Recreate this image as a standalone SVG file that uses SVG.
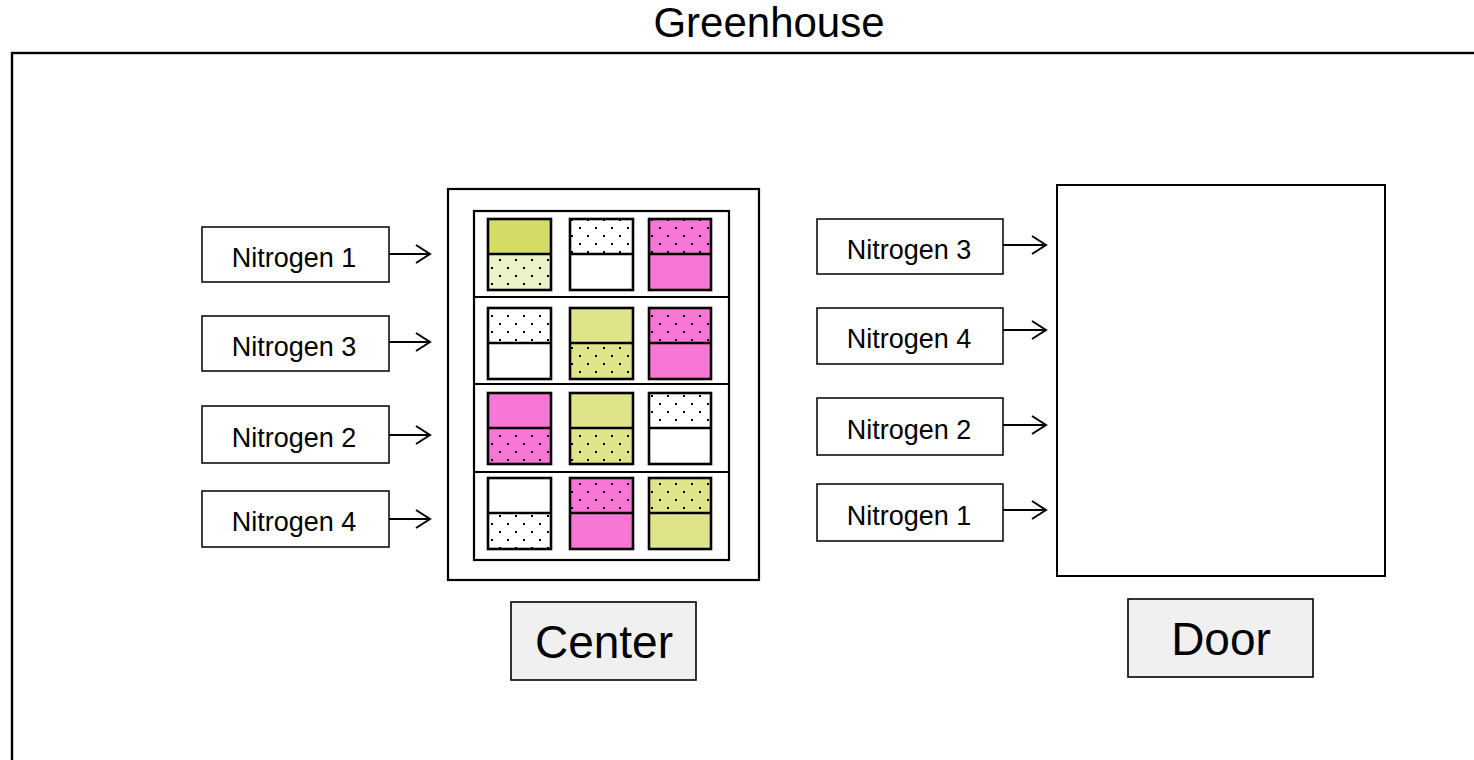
<svg xmlns="http://www.w3.org/2000/svg" width="1474" height="760" viewBox="0 0 1474 760">
<style>
text{font-family:"Liberation Sans",Arial,sans-serif;fill:#000}
.lbl{font-size:27px;text-anchor:middle}
.big{font-size:46px;text-anchor:middle}
.nbox{fill:#fff;stroke:#000;stroke-width:1.5}
.tag{fill:#f0f0f0;stroke:#000;stroke-width:1.6}
.cell{fill:none;stroke:#000;stroke-width:2.6}
.conn{fill:none;stroke:#000;stroke-width:2;marker-end:url(#arr)}
.y1{fill:#d4dc64}.y2{fill:#eef2c8}.y3{fill:#dfe48b}.pk{fill:#f877d5}.wh{fill:#fff}
.dt{fill:url(#dots)}
</style>
<defs>
<pattern id="dots" patternUnits="userSpaceOnUse" width="16" height="16">
<rect x="3" y="3" width="2" height="2" fill="#000"/>
<rect x="11" y="11" width="2" height="2" fill="#000"/>
</pattern>
<marker id="arr" markerUnits="userSpaceOnUse" markerWidth="18" markerHeight="22" refX="15" refY="10" orient="auto">
<path d="M1,1 L15,10 L1,19" fill="none" stroke="#000" stroke-width="2"/>
</marker>
</defs>
<rect width="1474" height="760" fill="#fff"/>
<g id="greenhouse">
<rect x="12" y="53" width="1480" height="760" fill="none" stroke="#000" stroke-width="2.4"/>
<text x="769" y="37" font-size="42" text-anchor="middle">Greenhouse</text>
</g>
<g id="center-bench">
<rect x="448" y="189" width="311" height="391" fill="#fff" stroke="#000" stroke-width="2.2"/>
<rect x="474" y="211" width="255" height="349" fill="#fff" stroke="#000" stroke-width="2.2"/>
<path d="M474,297H729M474,384H729M474,472H729" stroke="#000" stroke-width="2.2"/>
<rect class="y1" x="488" y="219" width="63" height="35"/><rect class="y2" x="488" y="254" width="63" height="36"/><rect class="dt" x="488" y="254" width="63" height="36"/>
<rect class="wh" x="570" y="219" width="63" height="35"/><rect class="dt" x="570" y="219" width="63" height="35"/><rect class="wh" x="570" y="254" width="63" height="36"/>
<rect class="pk" x="649" y="219" width="62" height="35"/><rect class="dt" x="649" y="219" width="62" height="35"/><rect class="pk" x="649" y="254" width="62" height="36"/>
<rect class="wh" x="488" y="308" width="63" height="35"/><rect class="dt" x="488" y="308" width="63" height="35"/><rect class="wh" x="488" y="343" width="63" height="36"/>
<rect class="y3" x="570" y="308" width="63" height="35"/><rect class="y3" x="570" y="343" width="63" height="36"/><rect class="dt" x="570" y="343" width="63" height="36"/>
<rect class="pk" x="649" y="308" width="62" height="35"/><rect class="dt" x="649" y="308" width="62" height="35"/><rect class="pk" x="649" y="343" width="62" height="36"/>
<rect class="pk" x="488" y="393" width="63" height="35"/><rect class="pk" x="488" y="428" width="63" height="36"/><rect class="dt" x="488" y="428" width="63" height="36"/>
<rect class="y3" x="570" y="393" width="63" height="35"/><rect class="y3" x="570" y="428" width="63" height="36"/><rect class="dt" x="570" y="428" width="63" height="36"/>
<rect class="wh" x="649" y="393" width="62" height="35"/><rect class="dt" x="649" y="393" width="62" height="35"/><rect class="wh" x="649" y="428" width="62" height="36"/>
<rect class="wh" x="488" y="478" width="63" height="35"/><rect class="wh" x="488" y="513" width="63" height="36"/><rect class="dt" x="488" y="513" width="63" height="36"/>
<rect class="pk" x="570" y="478" width="63" height="35"/><rect class="dt" x="570" y="478" width="63" height="35"/><rect class="pk" x="570" y="513" width="63" height="36"/>
<rect class="y3" x="649" y="478" width="62" height="35"/><rect class="dt" x="649" y="478" width="62" height="35"/><rect class="y3" x="649" y="513" width="62" height="36"/>
<g class="cell">
<rect x="488" y="219" width="63" height="71"/><path d="M488,254H551"/>
<rect x="570" y="219" width="63" height="71"/><path d="M570,254H633"/>
<rect x="649" y="219" width="62" height="71"/><path d="M649,254H711"/>
<rect x="488" y="308" width="63" height="71"/><path d="M488,343H551"/>
<rect x="570" y="308" width="63" height="71"/><path d="M570,343H633"/>
<rect x="649" y="308" width="62" height="71"/><path d="M649,343H711"/>
<rect x="488" y="393" width="63" height="71"/><path d="M488,428H551"/>
<rect x="570" y="393" width="63" height="71"/><path d="M570,428H633"/>
<rect x="649" y="393" width="62" height="71"/><path d="M649,428H711"/>
<rect x="488" y="478" width="63" height="71"/><path d="M488,513H551"/>
<rect x="570" y="478" width="63" height="71"/><path d="M570,513H633"/>
<rect x="649" y="478" width="62" height="71"/><path d="M649,513H711"/>
</g>
</g>
<g id="door-bench">
<rect x="1057" y="185" width="328" height="391" fill="#fff" stroke="#000" stroke-width="2"/>
</g>
<g id="center-label"><rect class="tag" x="511" y="602" width="185" height="78"/><text class="big" x="604" y="658">Center</text></g>
<g id="door-label"><rect class="tag" x="1128" y="599" width="185" height="78"/><text class="big" x="1221" y="655">Door</text></g>
<g id="left-n1"><rect class="nbox" x="202" y="227" width="187" height="55"/><text class="lbl" x="294" y="267">Nitrogen 1</text></g>
<g id="left-n3"><rect class="nbox" x="202" y="316" width="187" height="55"/><text class="lbl" x="294" y="356">Nitrogen 3</text></g>
<g id="left-n2"><rect class="nbox" x="202" y="406" width="187" height="57"/><text class="lbl" x="294" y="447">Nitrogen 2</text></g>
<g id="left-n4"><rect class="nbox" x="202" y="491" width="187" height="56"/><text class="lbl" x="294" y="531">Nitrogen 4</text></g>
<g id="right-n3"><rect class="nbox" x="817" y="219" width="186" height="55"/><text class="lbl" x="909" y="259">Nitrogen 3</text></g>
<g id="right-n4"><rect class="nbox" x="817" y="308" width="186" height="56"/><text class="lbl" x="909" y="348">Nitrogen 4</text></g>
<g id="right-n2"><rect class="nbox" x="817" y="398" width="186" height="57"/><text class="lbl" x="909" y="439">Nitrogen 2</text></g>
<g id="right-n1"><rect class="nbox" x="817" y="484" width="186" height="57"/><text class="lbl" x="909" y="525">Nitrogen 1</text></g>
<g id="connectors">
<path class="conn" d="M389,254H430"/>
<path class="conn" d="M389,342H430"/>
<path class="conn" d="M389,435H430"/>
<path class="conn" d="M389,519H430"/>
<path class="conn" d="M1003,245H1046"/>
<path class="conn" d="M1003,330H1046"/>
<path class="conn" d="M1003,425H1046"/>
<path class="conn" d="M1003,510H1046"/>
</g>
</svg>
